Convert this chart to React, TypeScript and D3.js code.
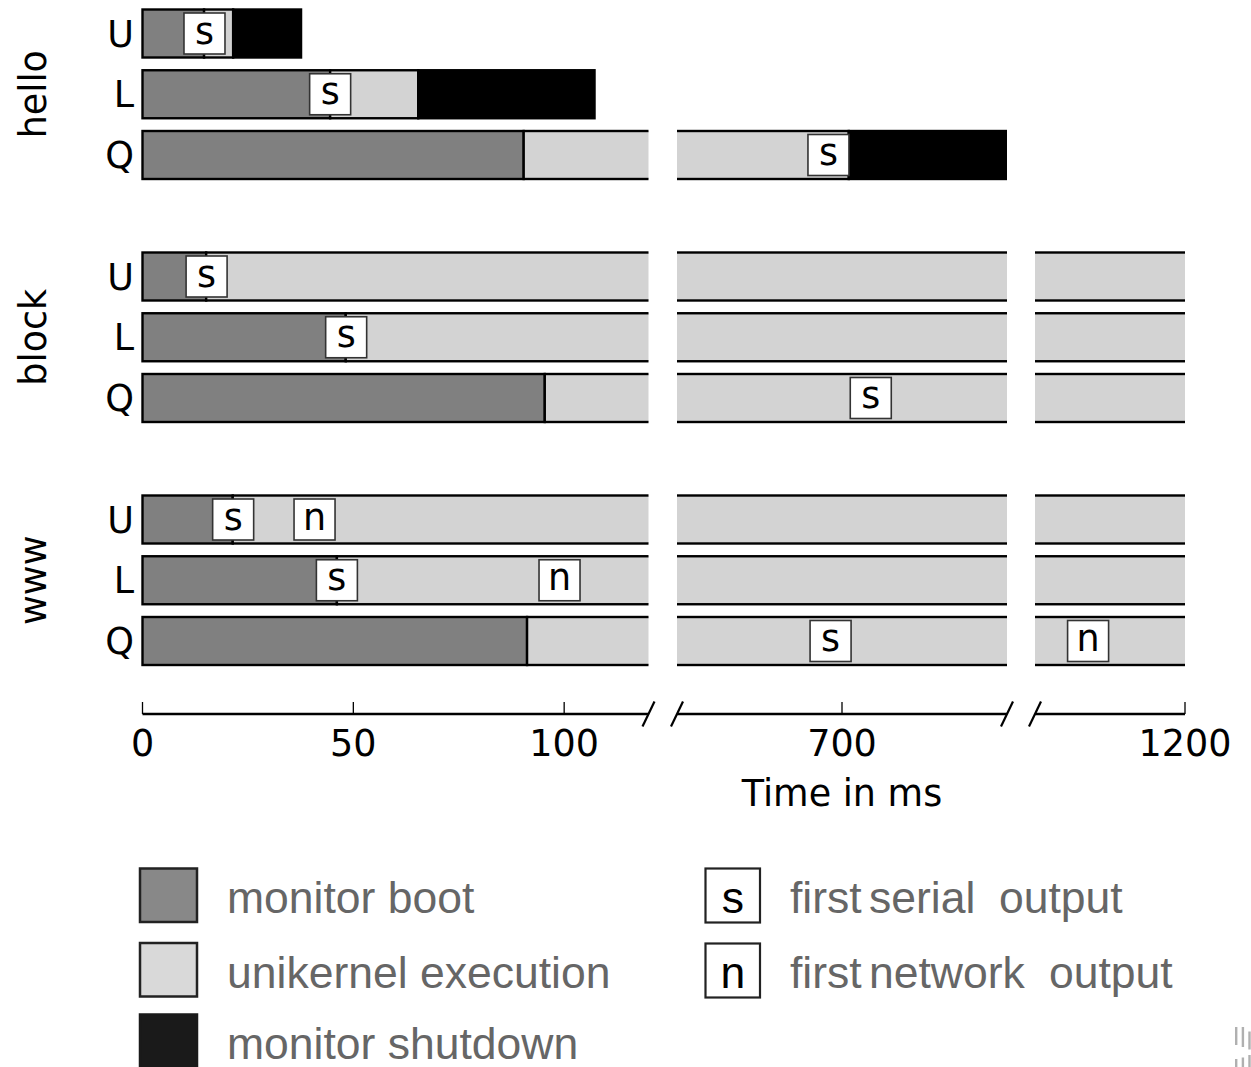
import React from "react";
import * as d3 from "d3";

// Workloads (row groups) and monitors (rows inside a group)
const workloads = ["hello", "block", "www"];
const monitors = ["U", "L", "Q"];

// Phase end times in ms, [workload][monitor]
const bootEnd = [
  [14.6, 44.5, 90.4],
  [15.1, 48.2, 95.4],
  [21.4, 46.1, 91.2],
];
const execEnd = [
  [21.5, 65.4, 701.6],
  [1250, 1250, 1250],
  [1250, 1250, 1250],
];
const shutdownEnd: (number | null)[][] = [
  [37.6, 107.2, 738.8],
  [null, null, null],
  [null, null, null],
];

// Event markers in ms
const firstSerial = [
  [14.7, 44.5, 696.8],
  [15.2, 48.3, 706.8],
  [21.5, 46.1, 697.3],
];
const firstNetwork: (number | null)[][] = [
  [null, null, null],
  [null, null, null],
  [40.8, 98.9, 1177],
];

// Broken time axis
const axisDomains: [number, number][] = [
  [0, 120],
  [661, 739],
  [1164.4, 1200],
];
const axisTicks = [[0, 50, 100], [700], [1200]];

const phaseLegend = ["monitor boot", "unikernel execution", "monitor shutdown"];
const eventLegend = [
  { key: "s", words: ["first", "serial", "output"] },
  { key: "n", words: ["first", "network", "output"] },
];

const W = 1251;
const H = 1067;
const FONT = "'DejaVu Sans', sans-serif";
const LEGEND_FONT = "'Liberation Sans', Arial, sans-serif";

const panelRanges: [number, number][] = [
  [142.5, 648.5],
  [677, 1007],
  [1035, 1185],
];

const COL_BOOT = "#808080";
const COL_EXEC = "#d3d3d3";
const COL_SHUT = "#000000";

export default function App() {
  const xs = axisDomains.map((dom, i) =>
    d3.scaleLinear().domain(dom).range(panelRanges[i])
  );
  const yRow = d3.scaleLinear().domain([0, 10]).range([33.5, 641]);
  const barH = 48;
  const boxS = 41;
  const axisY = 714;

  type Row = {
    g: number;
    m: number;
    cy: number;
    segs: { x0: number; x1: number; fill: string }[];
    marks: { t: number; label: string }[];
  };

  const rows: Row[] = [];
  workloads.forEach((_, g) => {
    monitors.forEach((_, m) => {
      const segs = [
        { x0: 0, x1: bootEnd[g][m], fill: COL_BOOT },
        { x0: bootEnd[g][m], x1: execEnd[g][m], fill: COL_EXEC },
      ];
      const se = shutdownEnd[g][m];
      if (se != null) segs.push({ x0: execEnd[g][m], x1: se, fill: COL_SHUT });
      const marks = [{ t: firstSerial[g][m], label: "s" }];
      const ne = firstNetwork[g][m];
      if (ne != null) marks.push({ t: ne, label: "n" });
      rows.push({ g, m, cy: yRow(g * 4 + m), segs, marks });
    });
  });

  const breakXs: number[] = [];
  panelRanges.forEach(([a, b], i) => {
    if (i > 0) breakXs.push(a);
    if (i < panelRanges.length - 1) breakXs.push(b);
  });

  return (
    <svg
      width={W}
      height={H}
      style={{ position: "fixed", left: 0, top: 0, background: "#fff" }}
    >
      <defs>
        {panelRanges.map(([a, b], i) => (
          <clipPath id={`panel-${i}`} key={i}>
            <rect x={i === 0 ? a - 3 : a} y={0} width={b - a + (i === 0 ? 3 : 0)} height={690} />
          </clipPath>
        ))}
      </defs>

      {/* bars and markers, one copy per axis panel */}
      {xs.map((x, pi) => {
        const [d0, d1] = axisDomains[pi];
        return (
          <g key={pi} clipPath={`url(#panel-${pi})`}>
            {rows.map((r) => (
              <g key={`${r.g}-${r.m}`}>
                {r.segs
                  .filter((s) => s.x1 > d0 - 1 && s.x0 < d1 + 1)
                  .map((s, si) => (
                    <rect
                      key={si}
                      x={x(s.x0)}
                      y={r.cy - barH / 2}
                      width={x(s.x1) - x(s.x0)}
                      height={barH}
                      fill={s.fill}
                      stroke="#000"
                      strokeWidth={2.4}
                    />
                  ))}
                {r.marks
                  .filter((mk) => mk.t >= d0 && mk.t <= d1)
                  .map((mk, mi) => (
                    <g key={`m${mi}`} transform={`translate(${x(mk.t)},${r.cy})`}>
                      <rect
                        x={-boxS / 2}
                        y={-boxS / 2}
                        width={boxS}
                        height={boxS}
                        fill="#fff"
                        stroke="#333"
                        strokeWidth={1.6}
                      />
                      <text
                        x={0}
                        y={10}
                        textAnchor="middle"
                        fontFamily={FONT}
                        fontSize={36.5}
                        fill="#000"
                      >
                        {mk.label}
                      </text>
                    </g>
                  ))}
              </g>
            ))}
          </g>
        );
      })}

      {/* monitor labels */}
      {rows.map((r) => (
        <text
          key={`lab-${r.g}-${r.m}`}
          x={134}
          y={r.cy + 13}
          textAnchor="end"
          fontFamily={FONT}
          fontSize={36.5}
          fill="#000"
        >
          {monitors[r.m]}
        </text>
      ))}

      {/* workload labels */}
      {workloads.map((w, g) => (
        <text
          key={w}
          transform={`translate(46,${yRow(g * 4 + 1)}) rotate(-90)`}
          textAnchor="middle"
          fontFamily={FONT}
          fontSize={36.5}
          fill="#000"
        >
          {w}
        </text>
      ))}

      {/* broken x axis */}
      {xs.map((x, pi) => (
        <g key={`ax${pi}`}>
          <line
            x1={panelRanges[pi][0]}
            x2={panelRanges[pi][1]}
            y1={axisY}
            y2={axisY}
            stroke="#000"
            strokeWidth={2.5}
          />
          {axisTicks[pi].map((t) => (
            <g key={t}>
              <line x1={x(t)} x2={x(t)} y1={axisY - 12} y2={axisY} stroke="#000" strokeWidth={1.3} />
              <text
                x={x(t)}
                y={756}
                textAnchor="middle"
                fontFamily={FONT}
                fontSize={36.5}
                fill="#000"
              >
                {t}
              </text>
            </g>
          ))}
        </g>
      ))}
      {breakXs.map((bx, i) => (
        <line
          key={`br${i}`}
          x1={bx - 6}
          y1={axisY + 12.5}
          x2={bx + 6}
          y2={axisY - 12.5}
          stroke="#000"
          strokeWidth={2.2}
        />
      ))}
      <text
        x={(panelRanges[1][0] + panelRanges[1][1]) / 2}
        y={806}
        textAnchor="middle"
        fontFamily={FONT}
        fontSize={36.5}
        fill="#000"
      >
        Time in ms
      </text>

      {/* legend: phases */}
      {phaseLegend.map((label, i) => {
        const y0 = [868.5, 943, 1014.5][i];
        const fills = ["#888888", "#d9d9d9", "#1a1a1a"];
        return (
          <g key={label}>
            <rect
              x={140}
              y={y0}
              width={57}
              height={i === 2 ? 60 : 53.5}
              fill={fills[i]}
              stroke={i === 2 ? "#1a1a1a" : "#222"}
              strokeWidth={2.5}
            />
            <text
              x={227}
              y={y0 + 44.5}
              fontFamily={LEGEND_FONT}
              fontSize={44.5}
              fill="#666"
            >
              {label}
            </text>
          </g>
        );
      })}

      {/* legend: events */}
      {eventLegend.map((ev, i) => {
        const y0 = [868.5, 943.5][i];
        const wordX = i === 0 ? [790, 869, 999] : [790, 869, 1049];
        return (
          <g key={ev.key}>
            <rect x={705.5} y={y0} width={54.5} height={54} fill="#fff" stroke="#222" strokeWidth={2.2} />
            <text
              x={732.75}
              y={y0 + 44.5}
              textAnchor="middle"
              fontFamily={LEGEND_FONT}
              fontSize={44.5}
              fill="#000"
            >
              {ev.key}
            </text>
            <text y={y0 + 44.5} fontFamily={LEGEND_FONT} fontSize={44.5} fill="#666">
              {ev.words.map((w, wi) => (
                <tspan key={wi} x={wordX[wi]}>
                  {w}
                </tspan>
              ))}
            </text>
          </g>
        );
      })}

      {/* corner mark */}
      <g fill="#b0b0b0">
        <rect x={1235} y={1027} width={2.4} height={18} />
        <rect x={1241.7} y={1027} width={2.4} height={20} />
        <rect x={1248.3} y={1031.5} width={2.4} height={18} />
        <rect x={1235} y={1059} width={2.4} height={8} />
        <rect x={1241.7} y={1057.5} width={2.4} height={9.5} />
        <rect x={1248.3} y={1055} width={2.4} height={12} />
      </g>
    </svg>
  );
}
